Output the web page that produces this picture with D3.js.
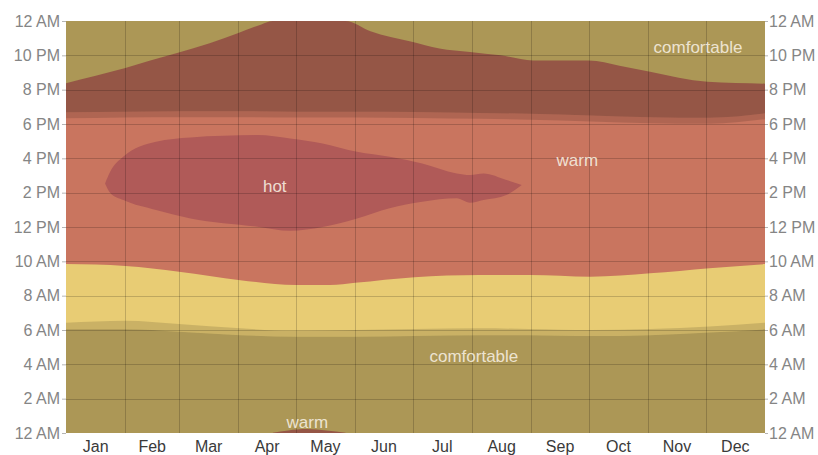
<!DOCTYPE html>
<html lang="en">
<head>
    <meta charset="UTF-8">
    <title>Average Hourly Temperature</title>
    <script src="https://d3js.org/d3.v7.min.js"></script>
    <style>
        body {
            margin: 0;
            background: #fff;
            font-family: "Liberation Sans", Arial, sans-serif;
        }
        .hour-axis text { font-size: 16px; fill: #858585; }
        .hour-axis line { stroke: #b5b5b5; }
        .month-label { font-size: 16px; fill: #3a3a3a; text-anchor: middle; }
        .band-label { font-size: 17px; fill: #f6eee0; fill-opacity: 0.9; text-anchor: middle; }
    </style>
</head>
<body>
    <div id="chart"></div>
    <script>
        // Month names and day-of-year where each month starts
        const months = ["Jan", "Feb", "Mar", "Apr", "May", "Jun", "Jul", "Aug", "Sep", "Oct", "Nov", "Dec"];
        const monthStarts = [0, 31, 59, 90, 120, 151, 181, 212, 243, 273, 304, 334, 365];
        const hourTicks = [0, 2, 4, 6, 8, 10, 12, 14, 16, 18, 20, 22, 24];

        // Hour (0-24) where the morning turns from comfortable to warm
        const warmStartDays = [0, 31, 59, 91, 120, 138, 151, 182, 216, 242, 274, 305, 336, 365];
        const warmStartHours = [9.84, 9.73, 9.4, 8.9, 8.62, 8.62, 8.75, 9.08, 9.2, 9.2, 9.1, 9.3, 9.6, 9.84];

        // Hour where the evening turns from warm back to comfortable (> 24 = past midnight)
        const warmEndDays = [0, 15, 31, 44, 58, 75, 90, 102, 108, 116, 126, 136, 146, 159, 180, 195, 211, 227, 244, 273, 289, 305, 335, 365];
        const warmEndHours = [20.38, 20.8, 21.26, 21.7, 22.13, 22.7, 23.3, 23.8, 24.02, 24.15, 24.23, 24.15, 24.02, 23.4, 22.8, 22.4, 22.2, 22.0, 21.7, 21.7, 21.4, 21.04, 20.46, 20.35];

        // Hot afternoon region
        const hotDays = [20.4, 23, 30, 47, 65, 100, 117, 134, 152, 169, 186, 204, 211, 218, 230, 238];
        const hotLow = [14.54, 14.0, 13.57, 12.99, 12.5, 12.02, 11.78, 12.0, 12.5, 13.09, 13.47, 13.67, 13.41, 13.57, 13.86, 14.44];
        const hotHigh = [14.54, 15.2, 16.1, 16.97, 17.22, 17.36, 17.16, 16.87, 16.38, 16.09, 15.7, 15.12, 15.03, 15.12, 14.74, 14.44];

        // Night and twilight boundaries
        const sunDays = [0, 31, 59, 91, 120, 151, 182, 216, 242, 274, 305, 336, 365];
        const nightEnd = [6.04, 6.04, 5.9, 5.7, 5.6, 5.6, 5.65, 5.7, 5.7, 5.65, 5.7, 5.85, 6.04];
        const dawnEnd = [6.42, 6.54, 6.35, 6.1, 5.95, 6.0, 6.06, 6.1, 6.06, 6.0, 6.06, 6.2, 6.42];
        const duskStart = [18.33, 18.38, 18.4, 18.4, 18.38, 18.38, 18.35, 18.3, 18.25, 18.15, 18.05, 18.02, 18.28];
        const nightStart = [18.68, 18.72, 18.75, 18.75, 18.72, 18.72, 18.7, 18.64, 18.6, 18.5, 18.4, 18.37, 18.62];

        // Labels placed inside the bands
        const bandLabels = [
            { text: "comfortable", day: 330, hour: 22.5 },
            { text: "hot", day: 109, hour: 14.4 },
            { text: "warm", day: 267, hour: 15.9 },
            { text: "comfortable", day: 213, hour: 4.5 },
            { text: "warm", day: 126, hour: 0.65 }
        ];

        const colors = {
            comfortable: "#e8cc74",
            warm: "#c9755f",
            hot: "#b05a58",
            night: "rgba(0,0,0,0.26)",
            twilight: "rgba(0,0,0,0.13)",
            grid: "rgba(0,0,0,0.18)"
        };

        const W = 818, H = 455;
        const plot = { left: 66, right: 765, top: 21, bottom: 433 };

        const svg = d3.select("#chart").append("svg")
            .attr("width", W)
            .attr("height", H);

        const x = d3.scaleLinear().domain([0, 365]).range([plot.left, plot.right]);
        const y = d3.scaleLinear().domain([0, 24]).range([plot.bottom, plot.top]);

        const zip = (days, a, b) => days.map((d, i) => ({ day: d, lo: a[i], hi: b ? b[i] : null }));
        const curve = d3.curveMonotoneX;

        const band = d3.area()
            .x(d => x(d.day))
            .y0(d => y(d.lo))
            .y1(d => y(d.hi))
            .curve(curve);

        // Base: warm everywhere, then comfortable carved out
        svg.append("rect")
            .attr("x", plot.left).attr("y", plot.top)
            .attr("width", plot.right - plot.left)
            .attr("height", plot.bottom - plot.top)
            .attr("fill", colors.warm);

        // Morning comfortable
        svg.append("path")
            .datum(warmStartDays.map((d, i) => ({ day: d, lo: 0, hi: warmStartHours[i] })))
            .attr("d", band)
            .attr("fill", colors.comfortable);

        // Evening comfortable (warm end clamped at midnight)
        svg.append("path")
            .datum(warmEndDays.map((d, i) => ({ day: d, lo: Math.min(warmEndHours[i], 24), hi: 24 })))
            .attr("d", band)
            .attr("fill", colors.comfortable);

        // Warm spilling past midnight shows at the bottom
        svg.append("path")
            .datum(warmEndDays.map((d, i) => ({ day: d, lo: 0, hi: warmEndHours[i] - 24, v: warmEndHours[i] })))
            .attr("d", d3.area()
                .defined(d => d.v >= 24)
                .x(d => x(d.day))
                .y0(d => y(d.lo))
                .y1(d => y(d.hi))
                .curve(curve))
            .attr("fill", colors.warm);

        // Hot region
        svg.append("path")
            .datum(zip(hotDays, hotLow, hotHigh))
            .attr("d", band)
            .attr("fill", colors.hot);

        // Night and twilight shading
        svg.append("path")
            .datum(sunDays.map((d, i) => ({ day: d, lo: 0, hi: nightEnd[i] })))
            .attr("d", band).attr("fill", colors.night);
        svg.append("path")
            .datum(zip(sunDays, nightEnd, dawnEnd))
            .attr("d", band).attr("fill", colors.twilight);
        svg.append("path")
            .datum(zip(sunDays, duskStart, nightStart))
            .attr("d", band).attr("fill", colors.twilight);
        svg.append("path")
            .datum(sunDays.map((d, i) => ({ day: d, lo: nightStart[i], hi: 24 })))
            .attr("d", band).attr("fill", colors.night);

        // Grid
        const grid = svg.append("g").attr("stroke", colors.grid).attr("stroke-width", 1);
        grid.selectAll(".vgrid")
            .data(monthStarts.slice(1, -1))
            .join("line")
            .attr("x1", d => Math.round(x(d)) + 0.5)
            .attr("x2", d => Math.round(x(d)) + 0.5)
            .attr("y1", plot.top)
            .attr("y2", plot.bottom);
        grid.selectAll(".hgrid")
            .data(hourTicks.slice(1, -1))
            .join("line")
            .attr("x1", plot.left)
            .attr("x2", plot.right)
            .attr("y1", d => Math.round(y(d)) + 0.5)
            .attr("y2", d => Math.round(y(d)) + 0.5);

        // Band labels
        svg.selectAll(".band-label")
            .data(bandLabels)
            .join("text")
            .attr("class", "band-label")
            .attr("x", d => x(d.day))
            .attr("y", d => y(d.hour))
            .attr("dy", "0.35em")
            .text(d => d.text);

        // Hour axes
        const fmtHour = h => {
            const hh = h % 24;
            const n = hh % 12 === 0 ? 12 : hh % 12;
            return n + (hh < 12 ? " AM" : " PM");
        };

        const leftAxis = svg.append("g")
            .attr("class", "hour-axis")
            .attr("transform", `translate(${plot.left},0)`)
            .call(d3.axisLeft(y).tickValues(hourTicks).tickFormat(fmtHour).tickSize(4).tickPadding(2));
        leftAxis.select(".domain").remove();

        const rightAxis = svg.append("g")
            .attr("class", "hour-axis")
            .attr("transform", `translate(${plot.right},0)`)
            .call(d3.axisRight(y).tickValues(hourTicks).tickFormat(fmtHour).tickSize(3).tickPadding(1));
        rightAxis.select(".domain").remove();

        svg.selectAll(".hour-axis text")
            .attr("font-family", null)
            .attr("font-size", null);

        // Month labels
        svg.selectAll(".month-label")
            .data(months)
            .join("text")
            .attr("class", "month-label")
            .attr("x", (d, i) => x((monthStarts[i] + monthStarts[i + 1]) / 2))
            .attr("y", 452)
            .text(d => d);
    </script>
</body>
</html>
